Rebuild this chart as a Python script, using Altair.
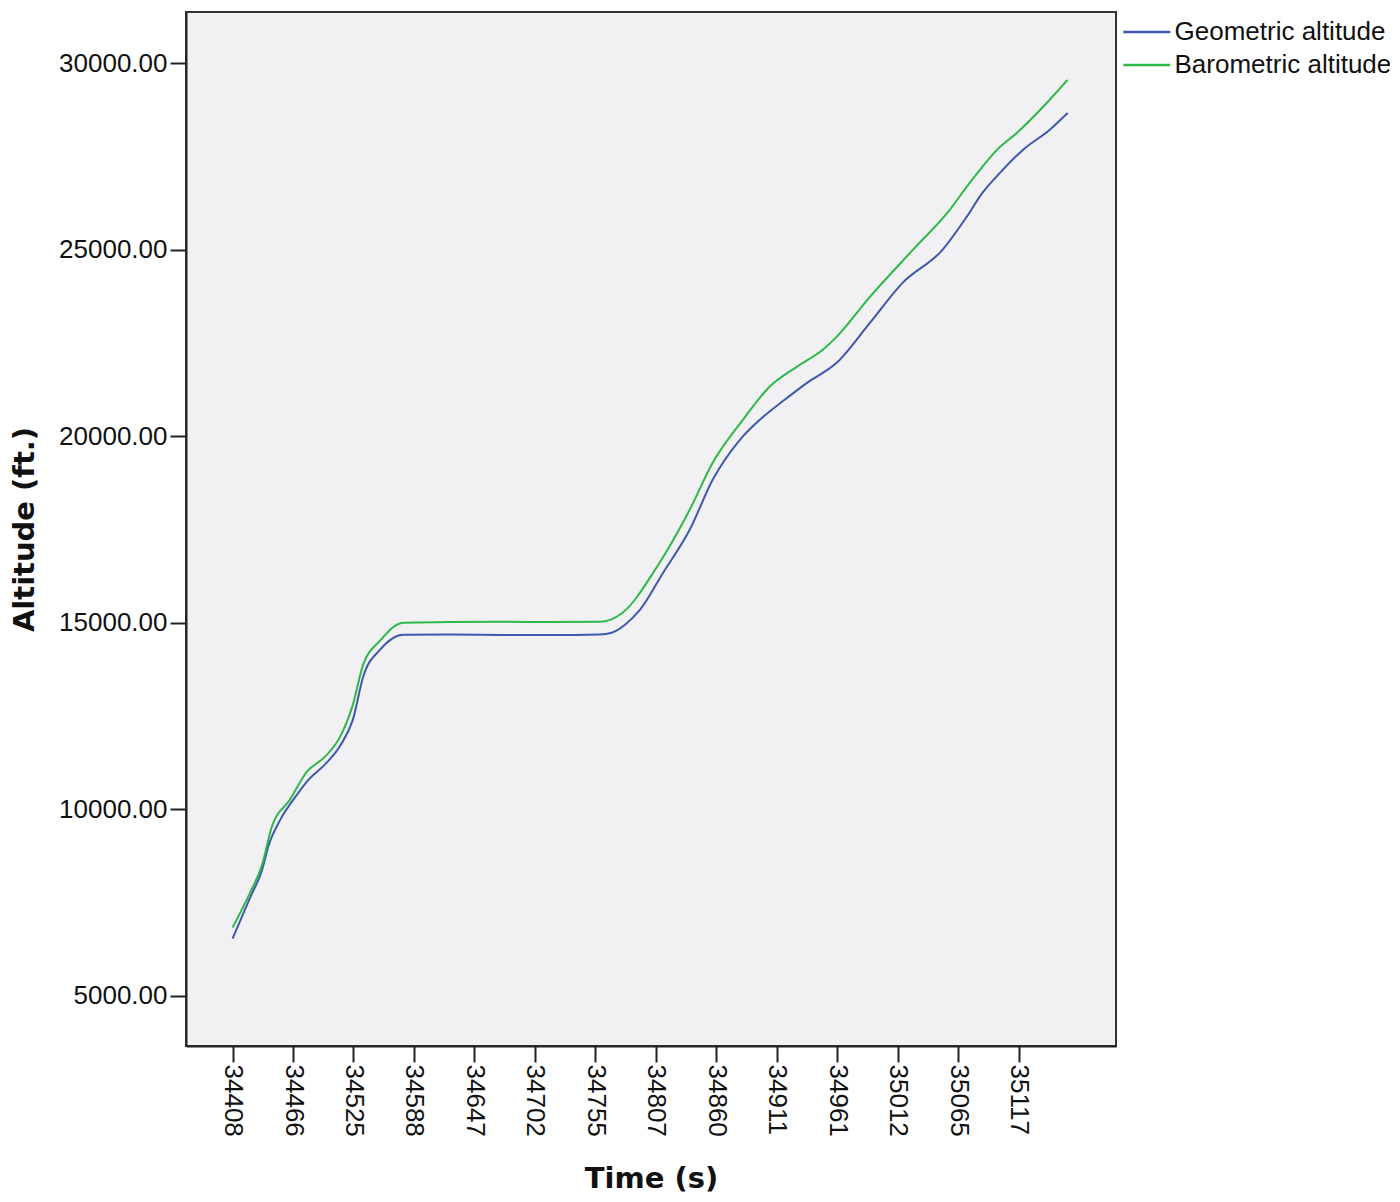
import altair as alt
import pandas as pd

# Tick labels (time in seconds), one every tick unit on the x axis
time_labels = ["34408", "34466", "34525", "34588", "34647", "34702", "34755",
               "34807", "34860", "34911", "34961", "35012", "35065", "35117"]

# Geometric altitude: positions (in tick units) and values (ft)
geo_pos = [0.0, 0.29, 0.49, 0.59, 0.79, 1.03, 1.23, 1.56, 1.78, 1.99, 2.16, 2.44,
           2.82, 3.60, 4.42, 5.25, 6.07, 6.27, 6.49, 6.74, 7.12, 7.56, 7.94, 8.39,
           8.72, 9.13, 9.50, 9.99, 10.54, 11.08, 11.74, 12.14, 12.40, 12.69, 13.07,
           13.51, 13.81]
geo_val = [6528, 7626, 8377, 8993, 9717, 10306, 10735, 11250, 11700, 12397, 13549,
           14273, 14675, 14680, 14670, 14665, 14680, 14728, 14943, 15345, 16336,
           17489, 18829, 19901, 20437, 20973, 21428, 21964, 23036, 24108, 24993,
           25877, 26520, 27056, 27673, 28209, 28664]

# Barometric altitude
baro_pos = [0.0, 0.29, 0.49, 0.65, 0.95, 1.23, 1.53, 1.78, 1.99, 2.16, 2.44, 2.82,
            3.60, 4.42, 5.25, 6.07, 6.45, 7.02, 7.56, 7.94, 8.44, 8.88, 9.33, 9.76,
            9.99, 10.54, 11.25, 11.86, 12.14, 12.40, 12.64, 12.97, 13.51, 13.81]
baro_val = [6822, 7760, 8511, 9529, 10253, 11003, 11405, 11941, 12799, 13871, 14514,
            14996, 15015, 15020, 15015, 15020, 15264, 16497, 18025, 19284, 20437,
            21321, 21857, 22313, 22661, 23733, 24993, 26065, 26681, 27217, 27673,
            28128, 29013, 29549]

series_names = ["Geometric altitude", "Barometric altitude"]
series_colors = ["#3E58AC", "#2EB848"]

df = pd.concat([
    pd.DataFrame({"pos": geo_pos, "alt": geo_val, "series": series_names[0], "order": range(len(geo_pos))}),
    pd.DataFrame({"pos": baro_pos, "alt": baro_val, "series": series_names[1], "order": range(len(baro_pos))}),
])

label_expr = "[" + ",".join("'" + t + "'" for t in time_labels) + "][datum.value]"

chart = alt.Chart(df).mark_line(strokeWidth=2, interpolate="monotone").encode(
    x=alt.X("pos:Q",
            scale=alt.Scale(domain=[-0.77, 14.61], nice=False, zero=False),
            axis=alt.Axis(title="Time (s)", values=list(range(len(time_labels))),
                          labelExpr=label_expr, labelAngle=90, grid=False,
                          tickSize=16, tickWidth=2, tickColor="#222",
                          domainColor="#222", domainWidth=2,
                          labelFont="Liberation Sans", labelFontSize=26, labelColor="#111",
                          labelPadding=2,
                          titleFont="DejaVu Sans", titleFontSize=29, titleFontWeight="bold",
                          titleColor="#111", titlePadding=28)),
    y=alt.Y("alt:Q",
            scale=alt.Scale(domain=[3647, 31371], nice=False, zero=False),
            axis=alt.Axis(title="Altitude (ft.)", values=[5000, 10000, 15000, 20000, 25000, 30000],
                          format=".2f", grid=False,
                          tickSize=16, tickWidth=2, tickColor="#222",
                          domainColor="#222", domainWidth=2,
                          labelFont="Liberation Sans", labelFontSize=26, labelColor="#111",
                          labelPadding=3,
                          titleFont="DejaVu Sans", titleFontSize=29, titleFontWeight="bold",
                          titleColor="#111", titlePadding=19)),
    color=alt.Color("series:N",
                    scale=alt.Scale(domain=series_names, range=series_colors),
                    legend=alt.Legend(title=None, orient="none", legendX=936, legendY=7,
                                      symbolType="M-1,0H3", symbolSize=552,
                                      symbolStrokeWidth=2.5, labelOffset=26.5,
                                      labelLimit=0,
                                      labelFont="Liberation Sans", labelFontSize=26,
                                      labelColor="#111", rowPadding=7, padding=0)),
    order="order:Q",
).properties(
    width=930,
    height=1034,
    autosize=alt.AutoSizeParams(type="none"),
    padding={"left": 178, "top": 4, "right": 274, "bottom": 148},
).configure(
    background="white"
).configure_view(
    fill="#f1f1f3", stroke="#333", strokeWidth=2
)

chart.save("out.html", embed_options={"renderer": "svg", "actions": False})
